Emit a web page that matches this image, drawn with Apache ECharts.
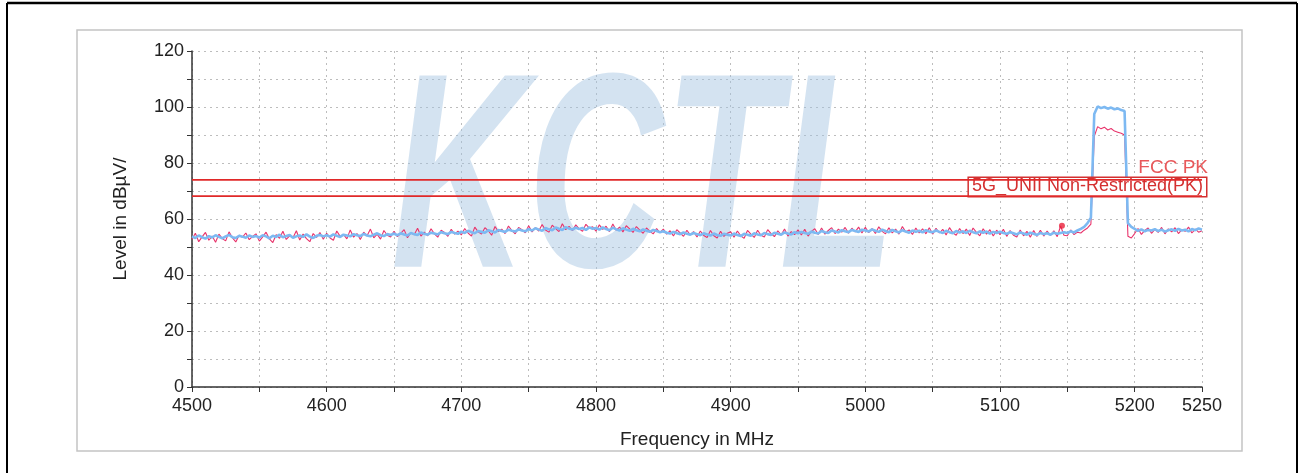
<!DOCTYPE html>
<html>
<head>
<meta charset="utf-8">
<script src="https://cdn.jsdelivr.net/npm/echarts@6/dist/echarts.min.js"></script>
<style>
html,body{margin:0;padding:0;background:#fff;}
#chart{width:1304px;height:473px;}
</style>
</head>
<body>
<div id="chart"></div>
<script>
// ---- data ----
var freqStart = 4500, freqStep = 2.5;
var xTickLabels = [4500, 4600, 4700, 4800, 4900, 5000, 5100, 5200, 5250];
var yTickLabels = [0, 20, 40, 60, 80, 100, 120];
var blueLevels = [
53.8,53.2,54.1,53.5,53.0,53.9,53.4,54.2,53.6,53.1,53.8,54.3,53.5,53.2,54.0,53.7,53.3,54.1,53.6,53.9,
53.4,54.2,53.8,53.1,54.0,53.6,54.4,53.5,53.9,54.3,53.3,53.8,54.1,53.6,54.5,53.7,53.2,54.0,54.3,53.8,
54.2,53.7,54.5,54.0,53.6,54.4,54.1,53.8,54.6,54.2,53.9,54.7,54.1,53.8,54.4,54.9,54.2,53.9,54.6,54.3,
54.8,54.2,54.9,54.5,54.1,55.0,54.6,54.3,55.2,54.7,54.4,55.1,54.8,54.5,55.3,54.9,54.6,55.4,55.0,54.7,
55.5,55.0,55.8,55.3,54.9,55.7,55.4,55.1,56.0,55.6,55.2,56.1,55.7,55.4,56.2,55.8,55.5,56.3,55.9,55.6,
56.4,55.9,56.7,56.2,55.8,56.8,56.3,56.0,57.0,56.5,56.1,57.1,56.6,56.2,56.9,56.4,56.8,56.1,57.0,56.5,
56.8,56.2,57.0,56.4,56.0,56.9,56.3,55.9,56.7,56.2,55.8,56.5,56.0,55.6,56.3,55.8,55.4,56.1,55.7,55.3,
55.6,55.1,54.8,55.4,54.9,54.6,55.2,54.7,54.4,55.0,54.6,54.2,54.9,54.5,54.1,54.8,54.3,54.0,54.7,54.4,
54.1,54.8,54.3,53.9,54.7,54.4,54.0,54.9,54.5,54.2,55.0,54.6,54.3,55.1,54.7,54.4,55.2,54.8,54.5,55.3,
54.9,55.4,55.0,54.7,55.5,55.1,54.8,55.7,55.3,55.0,55.9,55.5,55.2,56.0,55.6,55.3,56.1,55.7,55.4,56.2,
55.9,55.5,56.3,55.8,55.4,56.2,55.7,55.3,56.1,55.6,55.2,56.0,55.5,55.1,55.9,55.4,55.8,55.2,56.0,55.5,
55.3,55.9,55.4,55.0,55.8,55.3,54.9,55.7,55.2,55.6,55.0,55.8,55.3,54.9,55.6,55.1,55.5,54.8,55.4,55.0,
55.5,55.0,54.7,55.3,54.9,54.5,55.2,54.8,54.4,55.1,54.7,54.3,55.0,54.6,54.9,54.4,55.1,54.7,55.0,55.3,
55.0,55.6,55.2,55.9,56.5,57.2,58.5,60.5,97.5,100.2,99.6,100.0,99.4,99.8,99.2,99.5,98.9,98.6,58.5,57.2,
56.5,55.8,56.3,55.6,56.1,55.9,56.4,55.7,56.2,55.5,56.0,56.3,55.8,56.5,55.9,56.2,55.6,56.4,56.0,56.6,
56.2
];
var redLevels = [
52.8,54.9,51.9,53.6,55.2,52.4,53.9,51.7,54.6,53.0,52.2,55.4,53.3,51.8,54.2,53.5,55.0,52.6,53.8,54.7,
52.1,53.6,55.3,52.9,51.6,54.4,53.1,55.6,52.7,54.0,53.3,55.8,52.5,54.6,53.0,51.9,54.8,53.4,55.2,52.8,
54.9,53.2,52.4,55.7,53.8,54.5,52.9,56.1,53.5,54.8,52.7,55.3,54.0,56.4,53.3,54.6,52.8,55.9,54.2,53.6,
55.6,53.7,54.9,56.2,53.3,55.1,54.4,56.7,53.9,55.3,54.0,56.5,54.7,53.5,56.0,55.2,53.8,56.3,54.6,55.7,
54.3,56.6,55.0,53.9,57.1,55.4,54.6,56.9,55.8,54.2,57.3,55.5,56.4,54.8,57.5,55.9,54.7,57.0,56.2,55.1,
57.6,55.4,56.9,55.7,58.0,56.1,55.3,57.8,56.6,55.5,58.3,56.2,57.4,55.8,57.9,56.5,55.6,58.1,56.8,57.2,
55.7,57.9,56.3,57.4,55.5,58.2,56.0,57.1,55.4,57.6,56.5,55.2,57.3,56.0,54.9,56.8,55.6,54.7,56.6,55.1,
56.4,54.6,55.8,53.9,56.2,55.0,53.8,56.0,54.3,55.5,53.6,55.7,54.1,53.4,55.9,54.0,53.2,55.6,53.8,54.9,
55.4,53.5,55.7,54.0,53.1,55.9,54.6,53.4,56.0,54.2,53.6,56.2,54.8,53.7,55.8,54.3,56.4,53.9,55.5,54.4,
56.1,54.3,56.3,53.9,55.6,56.5,54.5,56.8,54.6,55.9,56.9,54.8,56.4,55.3,57.0,54.9,56.7,55.4,57.1,55.0,
57.0,55.1,56.6,54.8,57.2,55.6,54.7,56.9,55.0,56.4,54.6,57.3,55.4,56.1,54.5,56.8,55.0,56.5,54.7,56.9,
54.6,56.7,55.0,56.3,54.3,56.9,55.1,54.2,56.6,54.8,56.4,54.1,56.8,55.2,54.0,56.5,54.6,56.2,53.9,56.0,
54.4,56.3,53.8,55.9,54.2,53.6,56.1,54.0,55.6,53.5,55.9,53.8,56.0,53.9,55.7,54.1,55.8,53.7,57.5,54.2,
54.0,56.1,54.4,55.3,55.0,56.0,56.8,58.2,89.5,93.0,92.2,92.8,91.8,92.3,91.4,91.0,90.6,90.0,53.8,53.2,
54.8,56.6,54.5,55.9,56.8,54.9,56.3,55.2,57.0,54.7,56.5,55.4,56.9,54.8,56.2,55.6,57.1,55.0,56.4,55.3,
55.8
];
var markerPoint = [5146, 57.6];
var limitFccPk = 74;
var limitUnii = 68.2;
var limitFccName = 'FCC PK';
var limitUniiName = '5G_UNII Non-Restricted(PK)';
var xAxisName = 'Frequency in MHz';
var yAxisName = 'Level in dBµV/';
var watermarkText = 'KCTL';

function pairs(vals){
  return vals.map(function(v,i){ return [freqStart + i*freqStep, v]; });
}

var chart = echarts.init(document.getElementById('chart'), null, {renderer:'canvas'});
var FONT = '"Liberation Sans", Arial, sans-serif';

var option = {
  backgroundColor: '#ffffff',
  animation: false,
  graphic: [
    {type:'line', shape:{x1:7,y1:3,x2:1297,y2:3}, style:{stroke:'#000',lineWidth:2.5}, z:100},
    {type:'line', shape:{x1:7,y1:3,x2:7,y2:473}, style:{stroke:'#000',lineWidth:2}, z:100},
    {type:'line', shape:{x1:1297,y1:3,x2:1297,y2:473}, style:{stroke:'#000',lineWidth:2}, z:100},
    {type:'rect', shape:{x:77,y:30,width:1165,height:421}, style:{fill:'none',stroke:'#c4c4c4',lineWidth:1.5}, z:-5},
    {type:'text', x:391, y:190, scaleX:0.68, z:1,
     style:{text:watermarkText, font:'italic bold 278px "Liberation Sans", Arial, sans-serif',
            fill:'rgba(160,192,225,0.45)', textAlign:'left', textVerticalAlign:'middle'}}
  ],
  grid: {left:192, right:102, top:51, bottom:86, containLabel:false},
  xAxis: {
    type:'value', min:4500, max:5250, interval:50,
    name:xAxisName, nameLocation:'middle', nameGap:43,
    nameTextStyle:{fontFamily:FONT, fontSize:19, color:'#222'},
    axisLine:{show:true, onZero:false, lineStyle:{color:'#333', width:1.5}},
    axisTick:{show:true, length:5, lineStyle:{color:'#333'}},
    axisLabel:{fontFamily:FONT, fontSize:18, color:'#222', margin:10,
      formatter:function(v){ return xTickLabels.indexOf(v) >= 0 ? String(v) : ''; }},
    splitLine:{show:true, lineStyle:{color:'#bdbdbd', type:[2,4], width:1}}
  },
  yAxis: {
    type:'value', min:0, max:120, interval:10,
    name:yAxisName, nameLocation:'middle', nameGap:62, nameRotate:90,
    nameTextStyle:{fontFamily:FONT, fontSize:19, color:'#222'},
    axisLine:{show:true, lineStyle:{color:'#333', width:1.5}},
    axisTick:{show:true, length:5, lineStyle:{color:'#333'}},
    axisLabel:{fontFamily:FONT, fontSize:18, color:'#222', margin:8,
      formatter:function(v){ return yTickLabels.indexOf(v) >= 0 ? String(v) : ''; }},
    splitLine:{show:true, lineStyle:{color:'#bdbdbd', type:[2,4], width:1}}
  },
  series: [
    {type:'line', name:'red', data:pairs(redLevels), showSymbol:false, symbol:'none',
     lineStyle:{color:'#e8336b', width:1.1}, z:3},
    {type:'line', name:'blue', data:pairs(blueLevels), showSymbol:false, symbol:'none',
     lineStyle:{color:'#7db9f2', width:2.6}, z:4},
    {type:'line', name:limitFccName, data:[[4500,limitFccPk],[5250,limitFccPk]], symbol:'none',
     lineStyle:{color:'#e02828', width:1.8}, z:5,
     markLine:{silent:true, symbol:'none', lineStyle:{color:'rgba(0,0,0,0)', width:0}, data:[{yAxis:limitFccPk}],
       label:{show:true, position:'insideEndTop', formatter:limitFccName, distance:[-6,3],
              fontFamily:FONT, fontSize:19, color:'#e8585a'}}},
    {type:'line', name:limitUniiName, data:[[4500,limitUnii],[5250,limitUnii]], symbol:'none',
     lineStyle:{color:'#e02828', width:1.8}, z:5,
     markLine:{silent:true, symbol:'none', lineStyle:{color:'rgba(0,0,0,0)', width:0}, data:[{yAxis:limitUnii}],
       label:{show:true, position:'insideEndTop', formatter:limitUniiName, distance:[-4,0],
              fontFamily:FONT, fontSize:18, lineHeight:15, color:'#d43030', backgroundColor:'#fff',
              borderColor:'#d43030', borderWidth:1.5, padding:[0,3,3,3]}}},
    {type:'scatter', name:'marker', data:[markerPoint], symbol:'circle', symbolSize:6,
     itemStyle:{color:'#e8203a'}, z:6}
  ]
};
chart.setOption(option);
</script>
</body>
</html>
